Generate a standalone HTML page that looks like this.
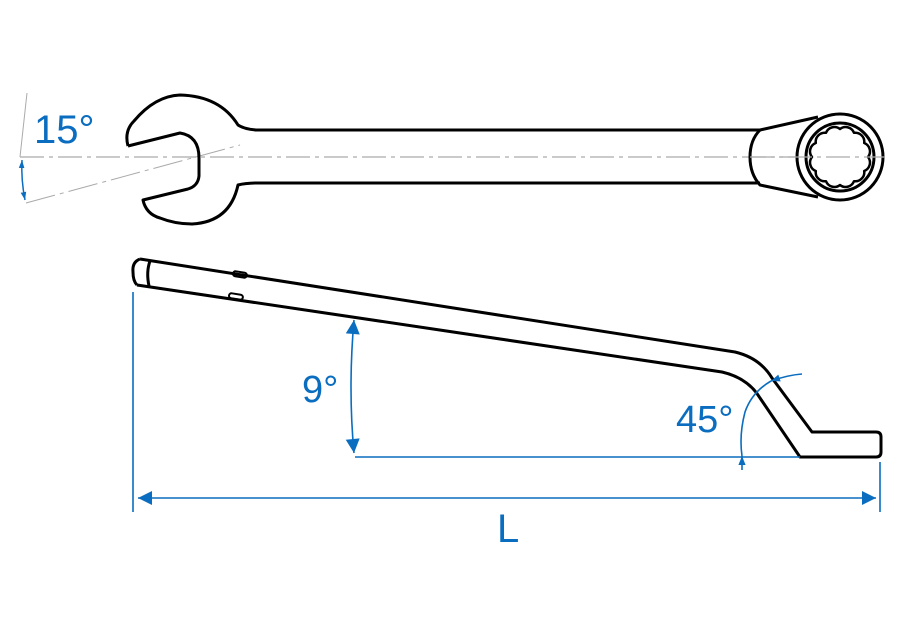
<!DOCTYPE html>
<html><head><meta charset="utf-8"><style>
html,body{margin:0;padding:0;background:#fff;}
svg{display:block;}
text{font-family:"Liberation Sans",sans-serif;fill:#0a6dbf;}
</style></head><body>
<svg width="900" height="630" viewBox="0 0 900 630" xmlns="http://www.w3.org/2000/svg">
<defs>
<marker id="ar" viewBox="0 0 10 10" refX="10" refY="5" markerWidth="8" markerHeight="8" orient="auto-start-reverse" markerUnits="userSpaceOnUse">
<path d="M0,1.5 L10,5 L0,8.5 Z" fill="#0a6dbf"/></marker>
<marker id="ar2" viewBox="0 0 10 10" refX="10" refY="5" markerWidth="10" markerHeight="9" orient="auto" markerUnits="userSpaceOnUse">
<path d="M0,1 L10,5 L0,9 Z" fill="#0a6dbf"/></marker>
<marker id="arL" viewBox="0 0 10 10" refX="10" refY="5" markerWidth="18" markerHeight="14" orient="auto-start-reverse" markerUnits="userSpaceOnUse">
<path d="M0,0 L10,5 L0,10 Z" fill="#0a6dbf"/></marker>
</defs>

<line x1="20" y1="157" x2="885" y2="157" stroke="#aaa" stroke-width="1.2" stroke-dasharray="24,5,4,5"/>
<line x1="26" y1="203" x2="240" y2="145" stroke="#aaa" stroke-width="1" stroke-dasharray="30,5,4,5"/>
<line x1="27" y1="93" x2="20" y2="157" stroke="#aaa" stroke-width="1"/>
<path d="M22,160 Q21,180 25,200" fill="none" stroke="#0a6dbf" stroke-width="1.5" marker-start="url(#ar)" marker-end="url(#ar)"/>
<text x="34" y="143" font-size="40">15°</text>

<g fill="none" stroke="#000" stroke-width="3" stroke-linejoin="round">
<path d="M128,146 L180,133 Q199,136 199,158 L199,176 Q198,186 188,189 L143,200 Q146,214 160,218 Q175,224 192,224 Q230,222 238,185 Q246,183 258,183 L760,183"/>
<path d="M128,146 Q124,131 134,121 Q155,96 180,95 Q220,96 238,125 Q244,129 256,130 L760,130"/>
<path d="M760,130 Q750,140 750,157 Q750,174 760,185 L818,197"/>
<path d="M760,130 L818,117"/>
<circle cx="840" cy="157" r="43" fill="#fff"/>
<circle cx="840" cy="157" r="34"/>
<path d="M868 157 A9 9 0 0 1 864.2 171 A9 9 0 0 1 854 181.2 A9 9 0 0 1 840 185 A9 9 0 0 1 826 181.2 A9 9 0 0 1 815.8 171 A9 9 0 0 1 812 157 A9 9 0 0 1 815.8 143 A9 9 0 0 1 826 132.8 A9 9 0 0 1 840 129 A9 9 0 0 1 854 132.8 A9 9 0 0 1 864.2 143 A9 9 0 0 1 868 157 Z" stroke-width="2.5"/>
</g>
<line x1="750" y1="157" x2="885" y2="157" stroke="#aaa" stroke-width="1.2" stroke-dasharray="24,5,4,5"/>

<g fill="none" stroke="#000" stroke-width="3" stroke-linejoin="round">
<path d="M140,259 L735,352 Q760,358 772,378 L812,432 L876,432 Q881,432 881,437 L881,452 Q881,457 876,457 L800,457 L760,398 Q748,378 722,372 L137,285"/>
<path d="M140,259 Q132,262 133,272 Q133,281 137,285"/>
<path d="M150,261 Q146,272 149,286"/>
<rect x="233" y="272" width="14" height="5" rx="2.5" transform="rotate(9 240 274)" stroke-width="2"/>
<rect x="229" y="294" width="14" height="5" rx="2.5" transform="rotate(9 236 296)" stroke-width="2"/>
</g>

<g stroke="#0a6dbf" stroke-width="1.6" fill="none">
<line x1="133" y1="292" x2="133" y2="512"/>
<line x1="880" y1="462" x2="880" y2="512"/>
<line x1="138" y1="498" x2="876" y2="498" marker-start="url(#arL)" marker-end="url(#arL)"/>
<line x1="355" y1="457" x2="800" y2="457"/>
<path d="M354,320 Q348,388 354,453" marker-start="url(#arL)" marker-end="url(#arL)"/>
<path d="M802,374 Q788,375 771,381" marker-end="url(#ar2)"/>
<path d="M771,381 Q752,392 745,412 Q739,435 742,456"/>
<path d="M742,470 L742,456" marker-end="url(#ar2)"/>
</g>
<text x="302" y="402" font-size="38">9°</text>
<text x="676" y="432" font-size="38">45°</text>
<text x="497" y="542" font-size="40">L</text>
</svg>
</body></html>
